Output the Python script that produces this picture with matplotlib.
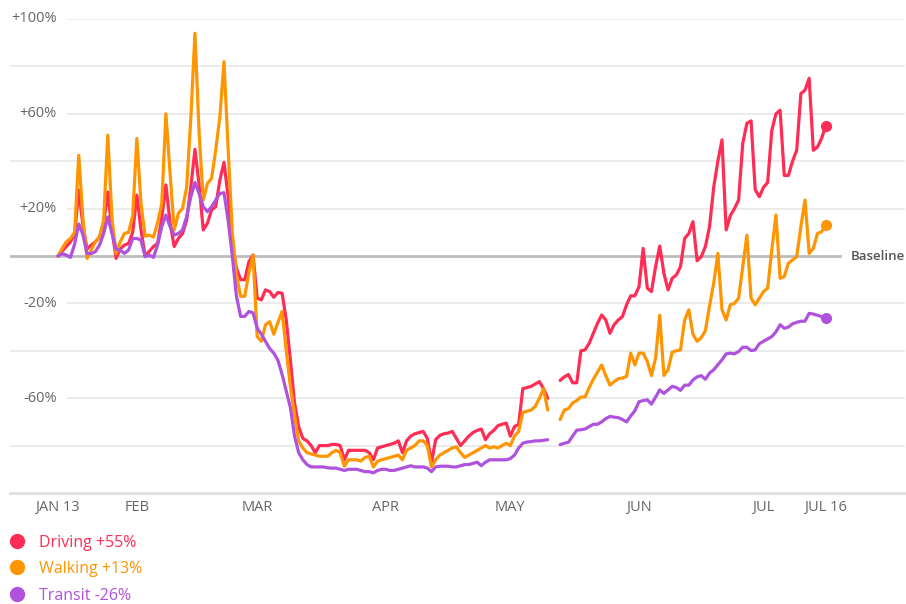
import numpy as np
import pandas as pd
import matplotlib
matplotlib.use("Agg")
import matplotlib.pyplot as plt
import matplotlib.dates as mdates
from matplotlib.lines import Line2D

plt.rcParams['font.family'] = ['Open Sans', 'DejaVu Sans']

nan = np.nan
dates = pd.date_range('2020-01-13', '2020-07-16', freq='D')

driving = [
    0, 2, 4, 6, 9, 27.8, 13,
    3, 4.6, 6, 8, 14, 27, 11,
    -1, 3, 4.6, 5.3, 10, 25.7, 11,
    0, 2, 4, 5.3, 16, 30, 14,
    4, 7.4, 9.5, 15, 29, 45, 30,
    11, 13.8, 19.4, 20.8, 32, 39.5, 25,
    5, -5, -10, -10, -2.4, 0.4, -17.8,
    -18.5, -14.3, -15, -17.4, -15.4, -15.7, -27,
    -44, -62, -72, -77, -78, -80, -83,
    -80, -80, -80, -79.5, -79.5, -80, -86,
    -82, -82, -82, -82, -82, -83, -86,
    -81, -80.5, -80, -79.5, -79, -78, -83,
    -78, -76, -75, -74.5, -74, -77, -87,
    -77.5, -75.7, -75, -74.7, -74, -77, -80,
    -78, -76, -74.5, -73.6, -73, -77.5, -75,
    -73.6, -71.6, -71, -70.5, -76, -72, -71,
    -56, -55.5, -55, -54, -53, -56, -60,
    nan, nan, -52.5, -51, -50, -53.5, -53.5,
    -40, -39.6, -36.8, -32.6, -28.4, -24.9, -27,
    -32.6, -29, -27, -25.6, -20.6, -16.8, -16.8,
    -13, 3.2, -13.6, -15, -4.5, 4.2, -7.3,
    -14.3, -9.4, -8, -4.5, 7.4, 9.5, 14.5,
    -2, -0.3, 4, 12.4, 29, 40, 49,
    11, 17, 20, 23.6, 47.5, 56, 57,
    28, 25, 29, 31, 53, 60, 61.5,
    34, 34, 40, 44.6, 68.5, 70, 75,
    44.6, 46, 49.6, 55,
]

walking = [
    0, 3.2, 6, 7.4, 10, 42.5, 16,
    -1, 2.5, 6, 8, 15, 51, 16,
    1, 6, 9.5, 10, 17, 49.6, 22,
    8.4, 8.8, 8, 14, 22, 60, 35,
    11, 18, 20, 29, 58, 94, 52,
    23.6, 30.6, 32.7, 44.6, 58.7, 82, 45,
    10, -8, -17, -17, -7, 0.4, -34,
    -36, -29, -27.7, -33, -28, -23.4, -40,
    -55, -67, -78, -81, -83, -83.5, -84,
    -84.5, -84.5, -84.5, -83, -82, -83, -88.7,
    -86, -86, -86, -86.5, -85, -84.5, -89,
    -86.6, -86, -85.5, -85, -84.5, -84, -86,
    -82, -81, -80, -78, -78, -80, -89,
    -86, -84, -83, -82, -81, -80.5, -83,
    -85, -84, -83, -82, -81, -80, -81,
    -80.5, -81, -80, -79, -80, -76, -74,
    -66, -65.5, -65, -63.5, -60, -56, -65,
    nan, nan, -69, -65, -64.4, -62, -61,
    -59.5, -59.5, -55.5, -52, -49, -46, -50.5,
    -54.5, -53, -51.8, -51.5, -50.8, -41, -46,
    -41, -41, -44.5, -50.5, -43, -25, -50.4,
    -48, -40.6, -40, -39.6, -27, -22.7, -33,
    -36, -34.5, -31.5, -21, -11.5, 1.1, -22.7,
    -27, -20.6, -20, -17.8, -4.5, 8.8, -17.8,
    -20.6, -17.8, -15, -13.6, 2.5, 17.3, -9.4,
    -8.7, -3, -1.7, -0.3, 12.4, 23.6, 1.1,
    3.2, 9.5, 10.2, 13,
]

transit = [
    0, 1, 0.4, -0.6, 5, 13.5, 9,
    1, 1, 1.8, 4.6, 9.5, 16.5, 9.5,
    2.8, 2.5, 1.1, 2.5, 7.4, 7.4, 6.7,
    -0.3, 0.4, -0.6, 4.6, 12.4, 17.3, 12.4,
    8.8, 9.5, 11, 16.6, 25, 31, 26.4,
    20.8, 18.7, 20.8, 23.6, 26.4, 26.7, 15,
    0, -17, -25.5, -25.5, -23.4, -24, -30.5,
    -33, -36, -39, -41, -44, -50, -57,
    -64, -76, -83, -86, -88, -89, -89,
    -89, -89, -89.4, -89.5, -89.5, -90, -90.5,
    -90, -90, -90, -90.5, -91, -91, -91.5,
    -90.5, -90, -90, -90.5, -90.5, -90, -89.5,
    -89, -88.5, -89, -89, -89, -89.5, -91,
    -89, -88.7, -88.7, -88.7, -89, -89, -88.5,
    -88, -88, -87.5, -87, -88.5, -87, -86,
    -86, -86, -86, -86, -85.5, -84, -81,
    -79, -78.5, -78.3, -78, -78, -77.8, -77.5,
    nan, nan, -79.6, -79, -78.6, -76, -73.5,
    -73.3, -73, -72, -71, -71, -70, -68.6,
    -67.7, -68, -68.2, -69, -70, -67.5, -65.3,
    -61.5, -61, -60.7, -62.5, -59.5, -56.5, -58,
    -56.5, -55, -55.5, -56.7, -54.5, -54.5, -52.3,
    -51, -50.5, -52, -49.4, -48, -45.9, -43.8,
    -41.3, -41, -41.3, -40.3, -38.5, -38.5, -39.9,
    -39.6, -37, -36, -35, -34, -32, -29,
    -30.5, -30, -28.6, -28, -27.5, -27.5, -24.2,
    -24.5, -25, -25.6, -26,
]

series_names = ['Driving +55%', 'Walking +13%', 'Transit -26%']
series_colors = ['#ff2d55', '#ff9500', '#af52de']
series_values = [driving, walking, transit]

tick_dates = ['2020-01-13', '2020-02-01', '2020-03-01', '2020-04-01',
              '2020-05-01', '2020-06-01', '2020-07-01', '2020-07-16']
tick_labels = ['JAN 13', 'FEB', 'MAR', 'APR', 'MAY', 'JUN', 'JUL', 'JUL 16']

y_label_values = [100, 60, 20, -20, -60]
y_label_texts = ['+100%', '+60%', '+20%', '-20%', '-60%']
y_plain_grid = [80, 40, -40, -80]

W, H = 906, 604
fig = plt.figure(figsize=(W / 100, H / 100), dpi=100)
ax_left, ax_right, ax_top, ax_bot = 10, 905, 19, 493
ax = fig.add_axes([ax_left / W, 1 - ax_bot / H, (ax_right - ax_left) / W, (ax_bot - ax_top) / H])

x0 = mdates.date2num(dates[0])
ppd = 4.15  # pixels per day
ax.set_xlim(x0 - (58 - ax_left) / ppd, x0 + (ax_right - 58) / ppd)
ax.set_ylim(-100, 100)

grid_c = '#ebebeb'
lab_start = (68 - ax_left) / (ax_right - ax_left)
for v in y_label_values:
    ax.axhline(v, xmin=lab_start, xmax=1, color=grid_c, lw=1.4, zorder=0)
for v in y_plain_grid:
    ax.axhline(v, xmin=0, xmax=1, color=grid_c, lw=1.4, zorder=0)
ax.axhline(-100, xmin=0, xmax=1, color='#e2e2e2', lw=2.2, zorder=0, clip_on=False)
base_end = (840 - ax_left) / (ax_right - ax_left)
ax.axhline(0, xmin=0, xmax=base_end, color='#bcbcbc', lw=2.0, zorder=1)

ytr = ax.get_yaxis_transform()
lab_right = (57 - ax_left) / (ax_right - ax_left)
for v, t in zip(y_label_values, y_label_texts):
    ax.text(lab_right, v, t, transform=ytr, ha='right', va='center',
            fontsize=10.5, color='#666666')
ax.text((851 - ax_left) / (ax_right - ax_left), 0, 'Baseline', transform=ytr,
        ha='left', va='center', fontsize=9.5, color='#555555', fontweight='semibold')

for vals, c in zip(series_values, series_colors):
    arr = np.array(vals, dtype=float)
    ax.plot(dates, arr, color=c, lw=2.3, solid_joinstyle='round',
            solid_capstyle='round', zorder=3)
    ax.plot(dates[-1:], arr[-1:], 'o', color=c, ms=7, zorder=4)

ax.set_xticks(pd.to_datetime(tick_dates))
ax.set_xticklabels(tick_labels)
ax.tick_params(axis='x', length=0, pad=5, labelsize=10.5, labelcolor='#666666')
ax.set_yticks([])
for s in ax.spines.values():
    s.set_visible(False)

leg_rows = [541, 567, 594]
for name, c, yp in zip(series_names, series_colors, leg_rows):
    fig.add_artist(Line2D([17 / W], [1 - yp / H], marker='o', ms=10, color=c,
                          transform=fig.transFigure, ls=''))
    fig.text(39 / W, 1 - (yp + 2) / H, name, color=c, fontsize=11.5, va='center', ha='left')

fig.savefig('out.png', dpi=100, facecolor='white')
